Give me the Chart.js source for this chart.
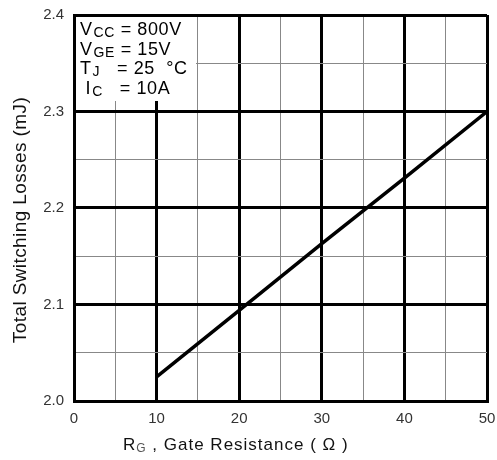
<!DOCTYPE html>
<html>
<head>
<meta charset="utf-8">
<script src="https://cdn.jsdelivr.net/npm/chart.js@4/dist/chart.umd.min.js"></script>
<style>
    html, body { margin:0; padding:0; background:#fff; }
    #wrap { width:497px; height:460px; }
</style>
</head>
<body>
<div id="wrap"><canvas id="lossChart" width="497" height="460"></canvas></div>
<script>

// R_G (ohm) vs total switching losses (mJ)
const gateResistance = [10, 20, 30, 40, 50];

const switchingLoss = [2.025, 2.094, 2.163, 2.231, 2.300];

const xMin = 0, xMax = 50, xStep = 5;

const yMin = 2.0, yMax = 2.4, yStep = 0.05;

// test conditions printed in the corner box: [main, subscript, rest]
const conditions = [
    ["V", "CC", " = 800V"],
    ["V", "GE", " = 15V"],
    ["T", "J",  "   = 25  \u00B0C"],
    [" I", "C",  "   = 10A"]
];

const yTitle = "Total Switching Losses (mJ)";

const FONT = "'Liberation Sans', Arial, Helvetica, sans-serif";

function isMajorX(v){
    return Math.round(v) % 10 === 0;
}

function isMajorY(v){
    return Math.round(v * 20) % 2 === 0;
}

// white box with the conditions, plus both axis titles
const textPlugin = {

    id:"textPlugin",

    beforeDatasetsDraw(chart){

        const ctx = chart.ctx;
        const a = chart.chartArea;

        ctx.save();

        ctx.fillStyle = "#fff";
        ctx.fillRect(a.left + 2, a.top + 2, 120, 84);

        ctx.fillStyle = "#000";
        ctx.textBaseline = "alphabetic";
        ctx.letterSpacing = "0.6px";

        conditions.forEach((row, i) => {

            const y = a.top + 20 + i * 19.5;
            let x = a.left + 6;

            ctx.font = "18px " + FONT;
            ctx.fillText(row[0], x, y);
            x += ctx.measureText(row[0]).width;

            ctx.font = "14px " + FONT;
            ctx.fillText(row[1], x + 1, y + 2);
            x += ctx.measureText(row[1]).width + 1;

            ctx.font = "18px " + FONT;
            ctx.fillText(row[2], x, y);

        });

        ctx.restore();
    },

    afterDraw(chart){

        const ctx = chart.ctx;

        ctx.save();

        ctx.fillStyle = "#111";
        ctx.textBaseline = "alphabetic";
        ctx.letterSpacing = "1px";

        let x = 123;
        const y = 450;

        ctx.font = "17px " + FONT;
        ctx.fillText("R", x, y);
        x += ctx.measureText("R").width;

        ctx.font = "12px " + FONT;
        ctx.fillStyle = "#555";
        ctx.fillText("G", x, y + 2);
        x += ctx.measureText("G").width;

        ctx.font = "17px " + FONT;
        ctx.fillStyle = "#111";
        ctx.fillText(" , Gate Resistance ( \u03A9 )", x, y);

        // rotated y title
        ctx.translate(26, 220);
        ctx.rotate(-Math.PI / 2);
        ctx.font = "19px " + FONT;
        ctx.letterSpacing = "0.4px";
        ctx.textAlign = "center";
        ctx.fillText(yTitle, 0, 0);

        ctx.restore();
    }
};

const ctx = document.getElementById("lossChart");

new Chart(ctx, {

    type:"line",

    data:{
        datasets:[
            {
                data:gateResistance.map((r, i) => ({x:r, y:switchingLoss[i]})),
                borderColor:"#000",
                borderWidth:3.5,
                borderCapStyle:"butt",
                pointRadius:0,
                fill:false,
                tension:0
            }
        ]
    },

    options:{
        responsive:false,
        animation:false,

        layout:{
            padding:{ top:15, right:10, left:0, bottom:0 }
        },

        plugins:{
            legend:{ display:false },
            tooltip:{ enabled:false }
        },

        scales:{
            x:{
                type:"linear",
                min:xMin,
                max:xMax,

                afterFit(scale){
                    scale.height = 59;
                    scale.paddingLeft = 0;
                    scale.paddingRight = 0;
                },

                ticks:{
                    stepSize:xStep,
                    autoSkip:false,
                    maxRotation:0,
                    padding:9,
                    color:"#333",
                    font:{ family:FONT, size:15 },
                    callback:v => isMajorX(v) ? String(v) : ""
                },

                grid:{
                    drawTicks:false,
                    color:c => isMajorX(c.tick.value) ? "#000" : "#888",
                    lineWidth:c => isMajorX(c.tick.value) ? 3 : 1
                },

                border:{ display:true, color:"#000", width:3 }
            },

            y:{
                type:"linear",
                min:yMin,
                max:yMax,

                afterFit(scale){
                    scale.width = 74;
                    scale.paddingTop = 0;
                    scale.paddingBottom = 0;
                },

                ticks:{
                    stepSize:yStep,
                    autoSkip:false,
                    padding:10,
                    color:"#333",
                    font:{ family:FONT, size:15 },
                    callback:v => isMajorY(v) ? v.toFixed(1) : ""
                },

                grid:{
                    drawTicks:false,
                    color:c => isMajorY(c.tick.value) ? "#000" : "#888",
                    lineWidth:c => isMajorY(c.tick.value) ? 3 : 1
                },

                border:{ display:true, color:"#000", width:3 }
            }
        }
    },

    plugins:[textPlugin]

});

</script>
</body>
</html>
